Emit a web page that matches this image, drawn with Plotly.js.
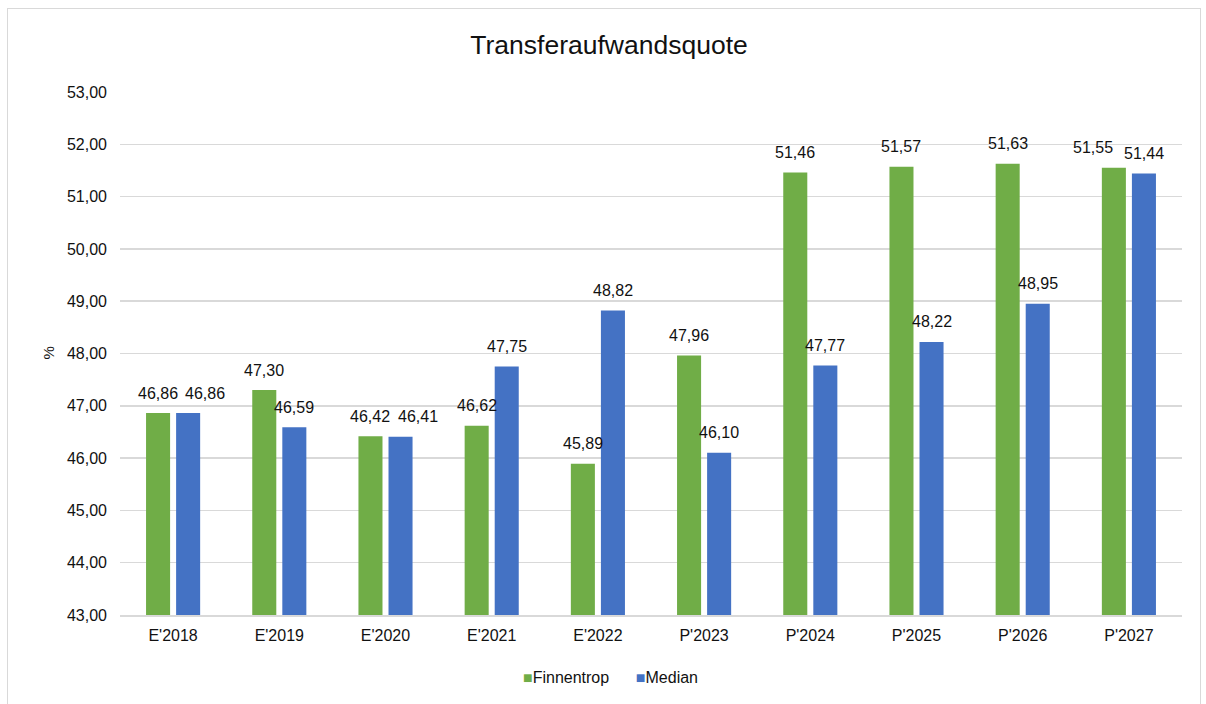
<!DOCTYPE html>
<html>
<head>
<meta charset="utf-8">
<script src="https://cdn.plot.ly/plotly-3.0.1.min.js"></script>
<style>
  html, body { margin: 0; padding: 0; background: #fff; }
  #wrap { position: relative; width: 1206px; height: 704px; overflow: hidden; }
  #chart { position: absolute; left: 0; top: 0; width: 1206px; height: 704px; }
  #frame { position: absolute; left: 7px; top: 8px; width: 1192px; height: 710px;
           border: 1px solid #d9d9d9; pointer-events: none; }
</style>
</head>
<body>
<div id="wrap">
  <div id="chart"></div>
  <div id="frame"></div>
</div>
<script>
const categories = ["E'2018", "E'2019", "E'2020", "E'2021", "E'2022", "P'2023", "P'2024", "P'2025", "P'2026", "P'2027"];
const finnentrop = [46.86, 47.30, 46.42, 46.62, 45.89, 47.96, 51.46, 51.57, 51.63, 51.55];
const median     = [46.86, 46.59, 46.41, 47.75, 48.82, 46.10, 47.77, 48.22, 48.95, 51.44];
const seriesNames = ["Finnentrop", "Median"];
const yTicks = [43, 44, 45, 46, 47, 48, 49, 50, 51, 52, 53];

const GREEN = "#70AD47", BLUE = "#4472C4";
const FONT = "Liberation Sans, Arial, sans-serif";
const TXT = '#111111';
const W = 1206, H = 704;
const M = {l: 120, r: 24, t: 92, b: 89};
const BARGAP = 0.434, GROUPGAP = 0.2;
const yMin = 43, yMax = 53;

const fmt = v => v.toFixed(2).replace('.', ',');

const plotW = W - M.l - M.r, plotH = H - M.t - M.b;
const catW = plotW / categories.length;
const barShift = catW * (1 - BARGAP) / 4;
const pxPerUnit = plotH / (yMax - yMin);

const annotations = [];
categories.forEach((c, i) => {
  const g = finnentrop[i], b = median[i];
  const close = Math.abs(g - b) * pxPerUnit < 18;
  const last = i === categories.length - 1;
  annotations.push({x: c, y: g, xref: 'x', yref: 'y', text: fmt(g), showarrow: false,
    xshift: -barShift - (close && last ? 21 : 0), yshift: 20, yanchor: 'middle', xanchor: 'center',
    font: {family: FONT, size: 16, color: TXT}});
  annotations.push({x: c, y: b, xref: 'x', yref: 'y', text: fmt(b), showarrow: false,
    xshift: barShift + (close && !last ? 17 : 0), yshift: 20, yanchor: 'middle', xanchor: 'center',
    font: {family: FONT, size: 16, color: TXT}});
});
annotations.push({xref: 'paper', yref: 'paper', x: (48 - M.l) / plotW, y: 0.5, text: '%', textangle: -90,
  xanchor: 'center', yanchor: 'middle', showarrow: false, font: {family: FONT, size: 15, color: TXT}});

// legend (compact, Excel-like spacing)
const legendY = (H - M.b - 677) / plotH;
annotations.push({xref: 'paper', yref: 'paper', x: (610 - M.l) / plotW, y: legendY,
  xanchor: 'center', yanchor: 'middle', showarrow: false,
  text: '<span style="color:' + GREEN + '">■</span>' + seriesNames[0] +
        '      <span style="color:' + BLUE + '">■</span>' + seriesNames[1],
  font: {family: FONT, size: 16, color: TXT}});

const traces = [
  {type: 'bar', name: seriesNames[0], x: categories, y: finnentrop, marker: {color: GREEN}, hoverinfo: 'skip'},
  {type: 'bar', name: seriesNames[1], x: categories, y: median, marker: {color: BLUE}, hoverinfo: 'skip'}
];

const layout = {
  width: W, height: H,
  margin: M,
  paper_bgcolor: '#fff', plot_bgcolor: '#fff',
  font: {family: FONT, size: 16, color: TXT},
  title: {text: 'Transferaufwandsquote', x: 0.505, xanchor: 'center', y: 0.936, yanchor: 'middle',
          font: {family: FONT, size: 26.5, color: TXT}},
  barmode: 'group', bargap: BARGAP, bargroupgap: GROUPGAP,
  separators: ',.',
  xaxis: {type: 'category', showgrid: false, showline: true, linecolor: '#d9d9d9', linewidth: 1.5,
          ticks: '', tickfont: {family: FONT, size: 16, color: TXT}, ticklabelstandoff: 5},
  yaxis: {range: [yMin, yMax], tickvals: yTicks, ticktext: yTicks.map(fmt), showgrid: true,
          gridcolor: '#d9d9d9', gridwidth: 1.5, zeroline: false, showline: false, ticks: '',
          tickfont: {family: FONT, size: 16, color: TXT}, ticklabelstandoff: 12},
  annotations: annotations,
  showlegend: false
};

Plotly.newPlot('chart', traces, layout, {displayModeBar: false, staticPlot: true});
</script>
</body>
</html>
